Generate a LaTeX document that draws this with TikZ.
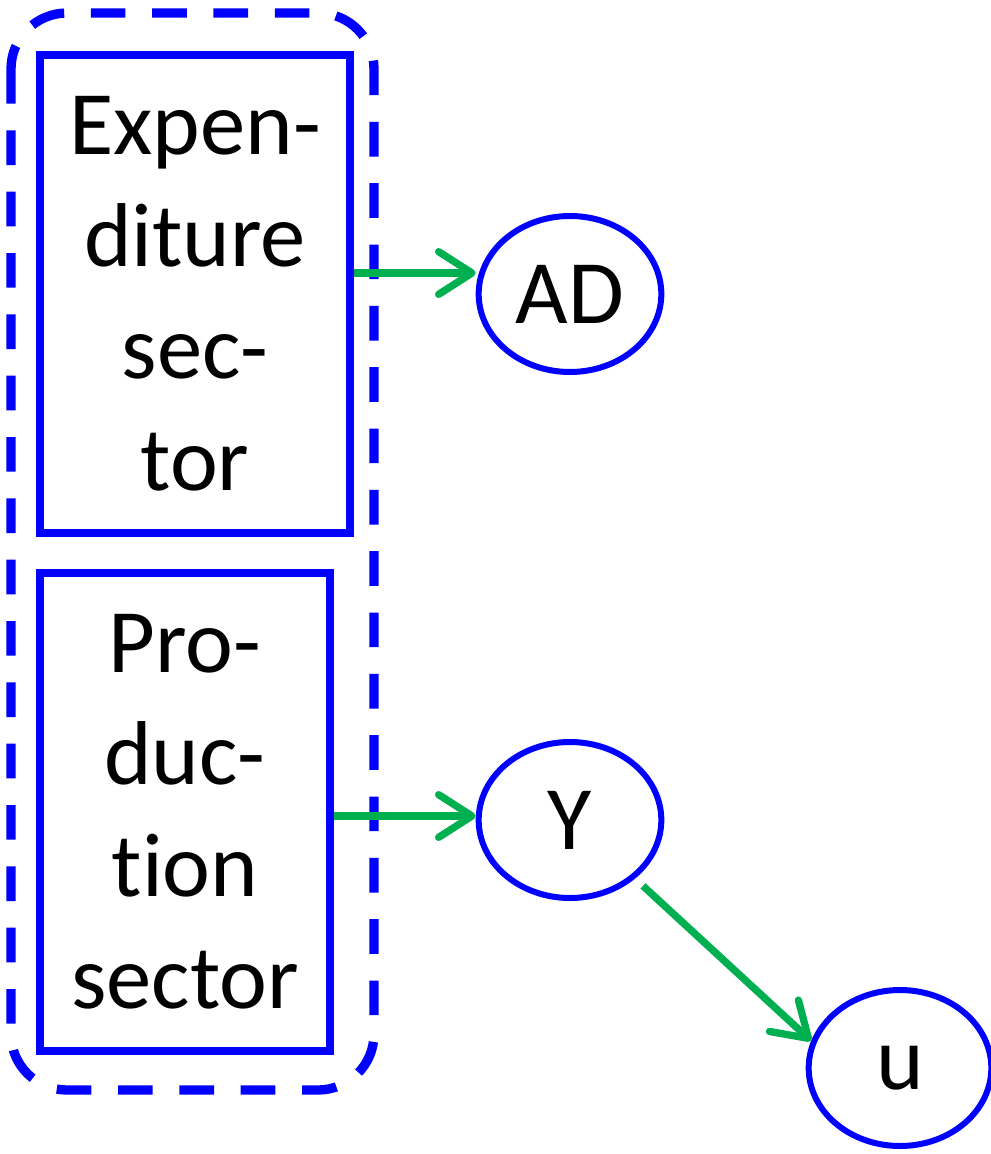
\documentclass[tikz,border=0pt]{standalone}
\usepackage{fontspec}
\setmainfont[Ligatures=NoCommon]{Carlito}
\usetikzlibrary{arrows.meta,shapes.geometric,shadows,calc}
\definecolor{boxblue}{RGB}{0,0,255}
\definecolor{flowgreen}{RGB}{0,176,80}

\tikzset{every picture/.style={line width=0.75pt}}
\tikzset{
  sector/.style={draw=boxblue, line width=5.5pt, fill=white, rectangle, minimum height=358.5pt, align=center, inner sep=0pt, font=\fontsize{68}{84}\selectfont, drop shadow={opacity=0.3, shadow xshift=2pt, shadow yshift=-2pt}},
  var/.style={draw=boxblue, line width=4.5pt, ellipse, minimum width=137pt, minimum height=117pt, inner sep=0pt, font=\fontsize{68}{84}\selectfont},
  flow/.style={draw=flowgreen, line width=5.5pt, -{Straight Barb[round, length=25pt, width=32pt]}},
}

\begin{document}
\begin{tikzpicture}[x=0.75pt,y=0.75pt,yscale=-1,xscale=1]
\useasboundingbox (0,0) rectangle (990,1154);

%Shape: Rounded Rectangle
\draw [boxblue, line width=7pt, dash pattern=on 26pt off 20pt, rounded corners=42pt] (11,13) rectangle (374,1090) ;

%Shape: Rectangle
\draw (195,294) node [sector, minimum width=232.5pt] (expend) {Expen-\\diture\\sec-\\tor};
%Shape: Rectangle
\draw (185,812) node [sector, minimum width=217.5pt] (produc) {Pro-\\duc-\\tion\\sector};

%Shape: Ellipse
\draw (570,294) node [var] (ad) {AD};
%Shape: Ellipse
\draw (570,820) node [var] (y) {Y};
%Shape: Ellipse
\draw (900,1068) node [var] (u) {u};

\coordinate (expout) at ($(expend.east)+(0,-21)$);
\coordinate (prodout) at ($(produc.east)+(0,4)$);

%Straight Lines
\draw [flow] (expout) -- (expout -| ad.west) ;
%Straight Lines
\draw [flow] (prodout) -- (prodout -| y.west) ;
%Straight Lines
\draw [flow, shorten <=8pt] (y.-42) -- (u.163) ;

\end{tikzpicture}
\end{document}
